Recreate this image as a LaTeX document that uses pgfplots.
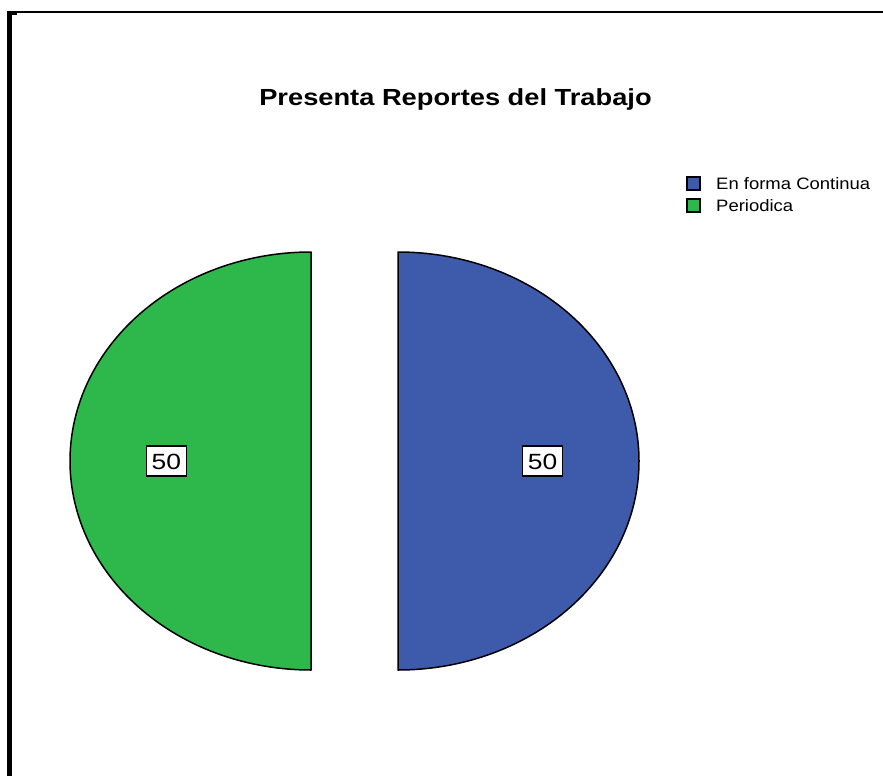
\documentclass[border=0pt]{standalone}
\usepackage{pgfplots}
\pgfplotsset{compat=1.18}
\usepackage{pgfplotstable}
\usepackage{graphicx}
\usepackage{fontspec}
\setmainfont{Liberation Sans}

\definecolor{pieblue}{HTML}{3E5AAB}
\definecolor{piegreen}{HTML}{2EB84B}

% pie values: En forma Continua, Periodica
\pgfplotstableread{
value
50
50
}\piedata

\begin{document}
\begin{tikzpicture}
\useasboundingbox (0,0) rectangle (883pt,776pt);
\pgfplotstablegetelem{0}{value}\of\piedata \let\va\pgfplotsretval
\pgfplotstablegetelem{1}{value}\of\piedata \let\vb\pgfplotsretval
\pgfmathsetmacro{\tot}{\va+\vb}
\pgfmathsetmacro{\fa}{\va/\tot}
\pgfmathsetmacro{\fb}{\vb/\tot}
\pgfmathsetmacro{\aS}{90}
\pgfmathsetmacro{\aM}{90-360*\fa}
\pgfmathsetmacro{\aE}{\aM-360*\fb}
\pgfmathsetmacro{\bisA}{(\aS+\aM)/2}
\pgfmathsetmacro{\bisB}{(\aM+\aE)/2}
\def\cx{354.5}
\def\cy{461}
\def\rx{241}
\def\ry{209}
\def\off{43.5}
\pgfmathsetmacro{\axc}{\cx+\off*cos(\bisA)}
\pgfmathsetmacro{\ayc}{\cy-\off*sin(\bisA)}
\pgfmathsetmacro{\bxc}{\cx+\off*cos(\bisB)}
\pgfmathsetmacro{\byc}{\cy-\off*sin(\bisB)}
\pgfmathsetmacro{\alx}{\axc+0.6*\rx*cos(\bisA)}
\pgfmathsetmacro{\aly}{\ayc-0.6*\ry*sin(\bisA)}
\pgfmathsetmacro{\blx}{\bxc+0.6*\rx*cos(\bisB)}
\pgfmathsetmacro{\bly}{\byc-0.6*\ry*sin(\bisB)}
\begin{axis}[
  at={(0,0)}, anchor=south west,
  scale only axis, width=883pt, height=776pt,
  xmin=0, xmax=883, ymin=0, ymax=776, y dir=reverse,
  hide axis, clip=false,
]
% frame
\fill[black] (axis cs:7,11) rectangle (axis cs:11.5,776);
\draw[line width=1.5pt] (axis cs:7,12) -- (axis cs:883,12);
\fill[black] (axis cs:7,11) rectangle (axis cs:17,15.5);

% slices
\addplot[fill=pieblue, draw=black, line width=1.5pt, line join=round,
  domain=\aM:\aS, samples=181, variable=\t]
  ({\axc+\rx*cos(\t)}, {\ayc-\ry*sin(\t)}) -- cycle;
\addplot[fill=piegreen, draw=black, line width=1.5pt, line join=round,
  domain=\aE:\aM, samples=181, variable=\t]
  ({\bxc+\rx*cos(\t)}, {\byc-\ry*sin(\t)}) -- cycle;

% value labels
\node[draw=black, fill=white, line width=1.5pt, inner xsep=5.3pt, inner ysep=7pt,
  text height=16pt, text depth=0pt, font=\fontsize{22}{26}\selectfont]
  at (axis cs:\alx,\aly) {\scalebox{1.2}[1]{\va}};
\node[draw=black, fill=white, line width=1.5pt, inner xsep=5.3pt, inner ysep=7pt,
  text height=16pt, text depth=0pt, font=\fontsize{22}{26}\selectfont]
  at (axis cs:\blx,\bly) {\scalebox{1.2}[1]{\vb}};

% title
\node[anchor=base, inner sep=0pt, font=\fontsize{23.3}{28}\selectfont\bfseries]
  at (axis cs:455.5,105.7) {\scalebox{1.17}[1]{Presenta Reportes del Trabajo}};

% legend
\draw[fill=pieblue, draw=black, line width=1.5pt] (axis cs:687,177) rectangle (axis cs:700,190);
\draw[fill=piegreen, draw=black, line width=1.5pt] (axis cs:687,199) rectangle (axis cs:700,212);
\node[anchor=base west, inner sep=0pt, font=\fontsize{16.5}{20}\selectfont]
  at (axis cs:716,189) {\scalebox{1.12}[1]{En forma Continua}};
\node[anchor=base west, inner sep=0pt, font=\fontsize{16.5}{20}\selectfont]
  at (axis cs:716,211) {\scalebox{1.12}[1]{Periodica}};
\end{axis}
\end{tikzpicture}
\end{document}
